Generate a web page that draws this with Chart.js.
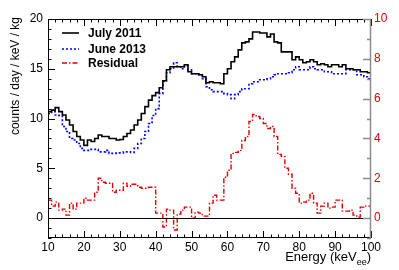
<!DOCTYPE html>
<html>
<head>
<meta charset="utf-8">
<script src="https://cdn.jsdelivr.net/npm/chart.js@4.4.0/dist/chart.umd.min.js"></script>
<style>
  html, body { margin: 0; padding: 0; background: #fff; }
</style>
</head>
<body>
<canvas id="chart" width="399" height="270"></canvas>
<script>
// left edges of the 1 keV bins
const energy = [10,11,12,13,14,15,16,17,18,19,20,21,22,23,24,25,26,27,28,29,
  30,31,32,33,34,35,36,37,38,39,40,41,42,43,44,45,46,47,48,49,
  50,51,52,53,54,55,56,57,58,59,60,61,62,63,64,65,66,67,68,69,
  70,71,72,73,74,75,76,77,78,79,80,81,82,83,84,85,86,87,88,89,
  90,91,92,93,94,95,96,97,98,99];

const july2011 = [10.7,10.85,11.1,10.7,10.35,9.85,9.35,8.7,8.2,7.85,
  7.3,7.85,7.7,8.0,8.35,8.2,8.2,8.0,8.0,7.85,
  7.9,8.2,8.5,8.85,9.35,9.85,10.5,11.2,11.85,12.3,
  12.6,13.1,13.8,14.9,15.2,15.2,15.2,15.2,15.4,14.7,
  14.5,14.5,14.4,14.2,13.6,13.7,13.6,13.6,13.5,14.5,
  15.0,15.7,16.2,16.9,17.6,17.7,18.0,18.7,18.7,18.6,
  18.6,18.2,18.5,17.7,17.6,16.7,16.7,16.7,15.9,16.2,
  15.9,15.6,15.7,15.9,15.7,15.4,15.5,15.4,15.2,15.4,
  15.4,15.2,15.4,15.0,15.0,14.9,14.9,14.7,14.7,14.6];

const june2013 = [10.5,10.7,10.35,10.3,9.2,8.7,8.0,7.85,7.5,7.0,
  6.8,6.8,6.9,6.9,6.65,6.65,6.8,6.5,6.5,6.55,
  6.55,6.65,6.65,6.6,7.0,7.5,8.0,8.7,9.5,10.3,
  11.0,12.5,13.7,14.6,15.0,15.6,15.2,15.0,15.3,14.9,
  14.5,14.5,14.4,14.0,13.2,12.9,12.7,12.7,12.7,12.5,
  12.4,12.0,12.4,12.7,13.0,13.0,13.5,13.7,13.7,13.9,
  13.9,14.0,14.2,14.4,14.5,14.5,14.5,14.6,14.9,15.2,
  14.9,14.9,14.9,15.2,15.0,14.9,14.9,14.7,14.7,14.5,
  14.5,14.5,14.5,14.9,14.9,14.9,14.4,14.4,14.2,14.0];

const residual = [0.9,0.6,0.8,0.4,0.45,0.15,0.75,0.45,0.75,0.75,
  1.0,0.9,0.9,1.3,2.0,1.8,1.75,1.75,1.3,1.4,
  1.4,1.75,1.6,1.7,1.7,1.55,1.5,1.5,1.55,1.55,
  0.25,0.25,-0.45,0.45,0.4,-0.6,0.2,0.4,0.55,0.55,
  0.0,0.3,0.25,0.1,0.1,0.75,1.15,0.9,0.9,2.05,
  2.4,3.25,3.3,3.4,3.9,4.1,4.85,5.2,5.1,5.0,
  4.75,4.5,4.6,4.1,3.2,3.1,2.5,2.2,1.5,1.25,
  0.75,0.8,0.9,1.25,0.75,0.25,0.6,0.75,0.5,0.55,
  0.9,0.9,0.35,0.35,0.4,0.15,0.05,0.55,0.6,0.6];

const xTicks = [10,20,30,40,50,60,70,80,90,100];
const leftTicks = [0,5,10,15,20];
const rightTicks = [0,2,4,6,8,10];
const seriesNames = ['July 2011', 'June 2013', 'Residual'];

const RED = '#e00000';
const FONT = '"Liberation Sans", Arial, sans-serif';

// histogram: one point per left bin edge plus closing point at the last edge
function histo(values) {
    const pts = energy.map((e, i) => ({ x: e, y: values[i] }));
    pts.push({ x: energy[energy.length - 1] + 1, y: values[values.length - 1] });
    return pts;
}

// ROOT-like frame: inward ticks, zero line, titles and legend
const frame = {
    id: 'frame',
    afterDatasetsDraw(chart) {
        const ctx = chart.ctx;
        const a = chart.chartArea;
        const x = chart.scales.x, y = chart.scales.y, y2 = chart.scales.y2;
        ctx.save();

        // zero line
        ctx.strokeStyle = '#000';
        ctx.lineWidth = 1;
        ctx.beginPath();
        const y0 = Math.round(y.getPixelForValue(0)) + 0.5;
        ctx.moveTo(a.left, y0); ctx.lineTo(a.right, y0);
        ctx.stroke();

        // frame lines
        ctx.beginPath();
        ctx.moveTo(a.left + 0.5, a.top); ctx.lineTo(a.left + 0.5, a.bottom);
        ctx.moveTo(a.left, a.bottom - 0.5); ctx.lineTo(a.right, a.bottom - 0.5);
        ctx.moveTo(a.left, a.top + 0.5); ctx.lineTo(a.right, a.top + 0.5);
        ctx.stroke();

        // x ticks bottom and top
        ctx.beginPath();
        for (let v = 10; v <= 100; v += 2) {
            const px = Math.round(x.getPixelForValue(v)) + 0.5;
            const len = (v % 10 === 0) ? 7 : 3.5;
            ctx.moveTo(px, a.bottom); ctx.lineTo(px, a.bottom - len);
            ctx.moveTo(px, a.top); ctx.lineTo(px, a.top + len);
        }
        // left y ticks
        for (let v = -2; v <= 20; v += 1) {
            const py = Math.round(y.getPixelForValue(v)) + 0.5;
            const len = (v % 5 === 0) ? 7 : 3.5;
            ctx.moveTo(a.left, py); ctx.lineTo(a.left + len, py);
        }
        ctx.stroke();

        // right axis (grey)
        ctx.strokeStyle = '#8c8c8c';
        ctx.lineWidth = 1.5;
        ctx.beginPath();
        ctx.moveTo(a.right - 0.5, a.top); ctx.lineTo(a.right - 0.5, a.bottom);
        for (let v = -1; v <= 10; v += 1) {
            const py = Math.round(y2.getPixelForValue(v)) + 0.5;
            const len = (v % 2 === 0) ? 8 : 4;
            ctx.moveTo(a.right, py); ctx.lineTo(a.right - len, py);
        }
        ctx.stroke();

        // y title
        ctx.fillStyle = '#000';
        ctx.font = '12px ' + FONT;
        ctx.save();
        ctx.translate(19, 17);
        ctx.rotate(-Math.PI / 2);
        ctx.textAlign = 'right';
        ctx.textBaseline = 'alphabetic';
        ctx.fillText('counts / day / keV / kg', 0, 0);
        ctx.restore();

        // x title with subscript
        ctx.textBaseline = 'alphabetic';
        ctx.textAlign = 'left';
        const main = 'Energy (keV', sub = 'ee', close = ')';
        ctx.font = '13px ' + FONT;
        const wMain = ctx.measureText(main).width;
        const wClose = ctx.measureText(close).width;
        ctx.font = '9px ' + FONT;
        const wSub = ctx.measureText(sub).width;
        let tx = a.right - (wMain + wSub + wClose);
        const base = 261;
        ctx.font = '13px ' + FONT;
        ctx.fillText(main, tx, base);
        ctx.font = '9px ' + FONT;
        ctx.fillText(sub, tx + wMain, base + 4);
        ctx.font = '13px ' + FONT;
        ctx.fillText(close, tx + wMain + wSub, base);

        // legend
        const rows = [33, 49, 63];
        ctx.font = 'bold 12px ' + FONT;
        ctx.textBaseline = 'middle';
        chart.data.datasets.forEach((ds, i) => {
            ctx.strokeStyle = ds.borderColor;
            ctx.lineWidth = ds.borderWidth;
            ctx.setLineDash(ds.borderDash || []);
            ctx.beginPath();
            ctx.moveTo(62, rows[i]); ctx.lineTo(79, rows[i]);
            ctx.stroke();
            ctx.setLineDash([]);
            ctx.fillStyle = '#000';
            ctx.fillText(ds.label, 88, rows[i] + 1);
        });

        ctx.restore();
    }
};

new Chart(document.getElementById('chart'), {
    type: 'line',
    data: {
        datasets: [
            { label: seriesNames[0], data: histo(july2011), yAxisID: 'y',
              borderColor: '#000', borderWidth: 1.6, stepped: true, pointRadius: 0 },
            { label: seriesNames[1], data: histo(june2013), yAxisID: 'y',
              borderColor: '#0000ff', borderWidth: 1.6, borderDash: [2, 2], stepped: true, pointRadius: 0 },
            { label: seriesNames[2], data: histo(residual), yAxisID: 'y2',
              borderColor: RED, borderWidth: 1.4, borderDash: [5, 2, 1.5, 2], stepped: true, pointRadius: 0 }
        ]
    },
    options: {
        responsive: false,
        animation: false,
        devicePixelRatio: 1,
        layout: { padding: { top: 19, left: 0, right: 0, bottom: 0 } },
        plugins: { legend: { display: false }, tooltip: { enabled: false } },
        scales: {
            x: {
                type: 'linear', min: 10, max: 100,
                grid: { display: false, drawTicks: false }, border: { display: false },
                afterBuildTicks: s => { s.ticks = xTicks.map(v => ({ value: v })); },
                afterFit: s => { s.height = 32; },
                ticks: { color: '#000', font: { size: 12, family: FONT }, padding: 2, maxRotation: 0, autoSkip: false }
            },
            y: {
                position: 'left', min: -2, max: 20,
                grid: { display: false, drawTicks: false }, border: { display: false },
                afterBuildTicks: s => { s.ticks = leftTicks.map(v => ({ value: v })); },
                afterFit: s => { s.width = 48; },
                ticks: { color: '#000', font: { size: 12, family: FONT }, padding: 5 }
            },
            y2: {
                position: 'right', min: -1, max: 10,
                grid: { display: false, drawTicks: false }, border: { display: false },
                afterBuildTicks: s => { s.ticks = rightTicks.map(v => ({ value: v })); },
                afterFit: s => { s.width = 28; },
                ticks: { color: RED, font: { size: 12, family: FONT }, padding: 3 }
            }
        }
    },
    plugins: [frame]
});
</script>
</body>
</html>
